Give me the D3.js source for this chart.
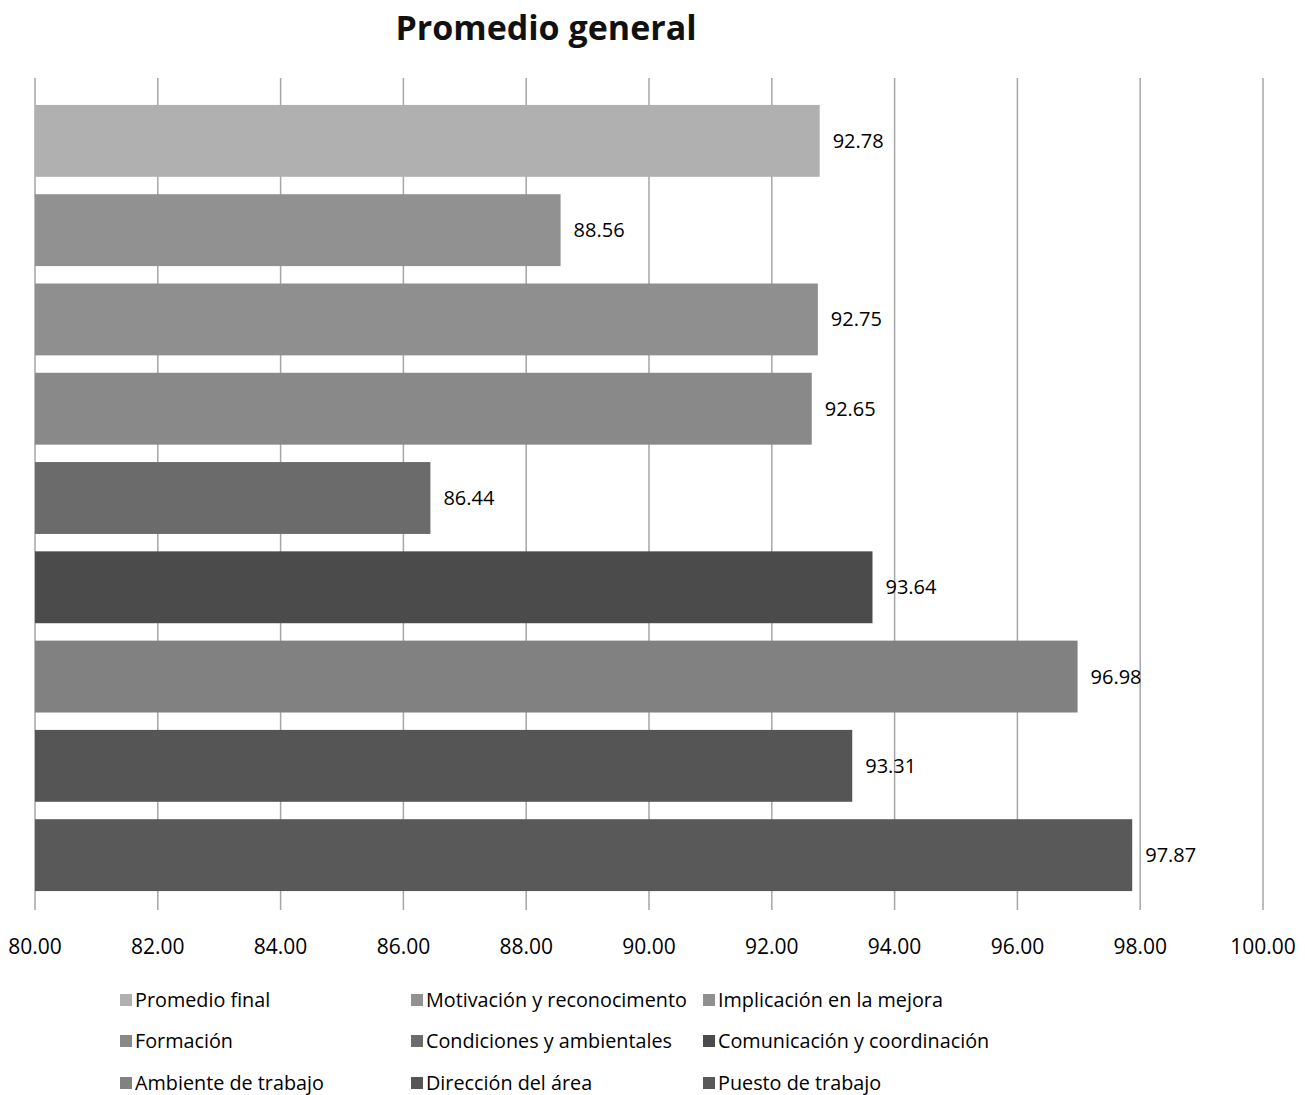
<!DOCTYPE html>
<html><head><meta charset="utf-8">
<script src="https://cdn.jsdelivr.net/npm/d3@7"></script>
<style>body{margin:0;background:#fff;font-family:"Open Sans","Noto Sans",sans-serif;}</style>
</head><body><svg id="c" width="1305" height="1095"></svg>
<script>
const categories = ["Promedio final","Motivación y reconocimento","Implicación en la mejora","Formación","Condiciones y ambientales","Comunicación y coordinación","Ambiente de trabajo","Dirección del área","Puesto de trabajo"];
const values = [92.78,88.56,92.75,92.65,86.44,93.64,96.98,93.31,97.87];
const colors = ["#b0b0b0","#919191","#8f8f8f","#898989","#6b6b6b","#4b4b4b","#818181","#555555","#595959"];
const ticks = [80,82,84,86,88,90,92,94,96,98,100];

const svg = d3.select("#c");
const x = d3.scaleLinear().domain([80,100]).range([35,1263]);
const y = d3.scaleBand().domain(categories).range([96,900]).paddingInner(0.195).paddingOuter(0.1);

svg.append("text").attr("x",546).attr("y",40).attr("text-anchor","middle")
  .attr("font-size",34).attr("font-weight","bold").attr("fill","#111").text("Promedio general");

svg.append("g").selectAll("line").data(ticks).join("line")
  .attr("x1",d=>x(d)).attr("x2",d=>x(d)).attr("y1",78).attr("y2",910)
  .attr("stroke","#a6a6a6").attr("stroke-width",1.5);

svg.append("g").selectAll("rect").data(values).join("rect")
  .attr("x",x(80)).attr("y",(d,i)=>y(categories[i]))
  .attr("width",d=>x(d)-x(80)).attr("height",y.bandwidth())
  .attr("fill",(d,i)=>colors[i]);

svg.append("g").selectAll("text").data(values).join("text")
  .attr("x",d=>x(d)+13).attr("y",(d,i)=>y(categories[i])+y.bandwidth()/2)
  .attr("dy","0.35em").attr("font-size",20).attr("fill","#000")
  .text(d=>d.toFixed(2));

svg.append("g").selectAll("text").data(ticks).join("text")
  .attr("x",d=>x(d)).attr("y",947).attr("dy","0.35em").attr("text-anchor","middle")
  .attr("font-size",21).attr("fill","#000").text(d=>d.toFixed(2));

const colX = [120,411,703], rowY = [1000,1041,1083];
const leg = svg.append("g").selectAll("g").data(categories).join("g")
  .attr("transform",(d,i)=>`translate(${colX[i%3]},${rowY[Math.floor(i/3)]})`);
leg.append("rect").attr("x",0).attr("y",-6).attr("width",12).attr("height",12).attr("fill",(d,i)=>colors[i]);
leg.append("text").attr("x",15).attr("y",0).attr("dy","0.35em").attr("font-size",19.8).attr("fill","#000").text(d=>d);
</script></body></html>
